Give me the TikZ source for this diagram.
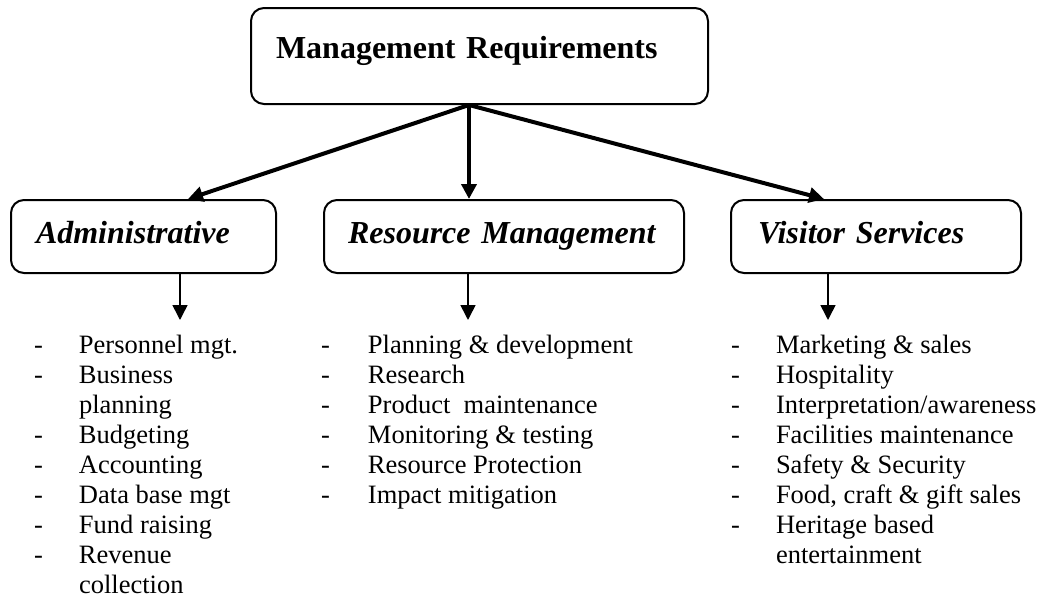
\documentclass[tikz,border=0pt]{standalone}
\usepackage{fontspec}
\setmainfont{Liberation Serif}
\usetikzlibrary{arrows.meta}

\begin{document}
\begin{tikzpicture}[x=0.5pt, y=-0.5pt, >={Triangle[length=7.5pt, width=7.5pt]}, line width=1pt]
        \tikzstyle{box}=[draw=black, rounded corners=6.5pt, anchor=north west, align=left, inner xsep=12.5pt, inner ysep=0pt]
        \tikzstyle{head}=[box, minimum height=36.5pt, text height=11pt, text depth=4.5pt, font=\fontsize{16}{19}\selectfont\bfseries\itshape]
        \tikzstyle{list}=[anchor=base west, inner sep=0pt, font=\fontsize{13.25}{15}\selectfont]

        \useasboundingbox (0,0) rectangle (1040,605);

        % Nodes
        \node[box, minimum width=228.5pt, minimum height=48pt, text width=203.5pt,
              text height=10pt, text depth=8pt, font=\fontsize{16}{19}\selectfont\bfseries] (mgmt) at (250,7) {Management Requirements};
        \node[head, minimum width=132.5pt, text width=107.5pt] (adm) at (10,199) {Administrative};
        \node[head, minimum width=180pt, text width=156pt, inner xsep=12pt] (res) at (323,199) {Resource Management};
        \node[head, minimum width=145pt, text width=118pt, inner xsep=13.5pt] (vis) at (730,199) {Visitor Services};

        % Lists
        \node[list] (admlist) at (33,353) {\begin{tabular}[t]{@{}p{22.5pt}@{}l@{}}
            - & Personnel mgt.\\
            - & Business\\
              & planning\\
            - & Budgeting\\
            - & Accounting\\
            - & Data base mgt\\
            - & Fund raising\\
            - & Revenue\\
              & collection
        \end{tabular}};
        \node[list] (reslist) at (320,353) {\begin{tabular}[t]{@{}p{23.5pt}@{}l@{}}
            - & Planning \& development\\
            - & Research\\
            - & Product~ maintenance\\
            - & Monitoring \& testing\\
            - & Resource Protection\\
            - & Impact mitigation
        \end{tabular}};
        \node[list] (vislist) at (730,353) {\begin{tabular}[t]{@{}p{22.5pt}@{}l@{}}
            - & Marketing \& sales\\
            - & Hospitality\\
            - & Interpretation/awareness\\
            - & Facilities maintenance\\
            - & Safety \& Security\\
            - & Food, craft \& gift sales\\
            - & Heritage based\\
              & entertainment
        \end{tabular}};

        % Arrows from the top box
        \coordinate (hub) at ([xshift=-5.25pt]mgmt.south);
        \draw[->, line width=2pt] (hub) -- ([xshift=22.25pt]adm.north);
        \draw[->, line width=2pt] (hub) -- ([xshift=-17.5pt]res.north);
        \draw[->, line width=2pt] (hub) -- ([xshift=-26pt]vis.north);

        % Arrows down to the lists
        \coordinate (admtip) at ([xshift=18.25pt, yshift=-23pt]adm.south);
        \coordinate (restip) at ([xshift=-18pt, yshift=-23pt]res.south);
        \coordinate (vistip) at ([xshift=-24pt, yshift=-23pt]vis.south);
        \draw[->, line width=0.8pt] (admtip |- adm.south) -- (admtip);
        \draw[->, line width=0.8pt] (restip |- res.south) -- (restip);
        \draw[->, line width=0.8pt] (vistip |- vis.south) -- (vistip);
\end{tikzpicture}
\end{document}
